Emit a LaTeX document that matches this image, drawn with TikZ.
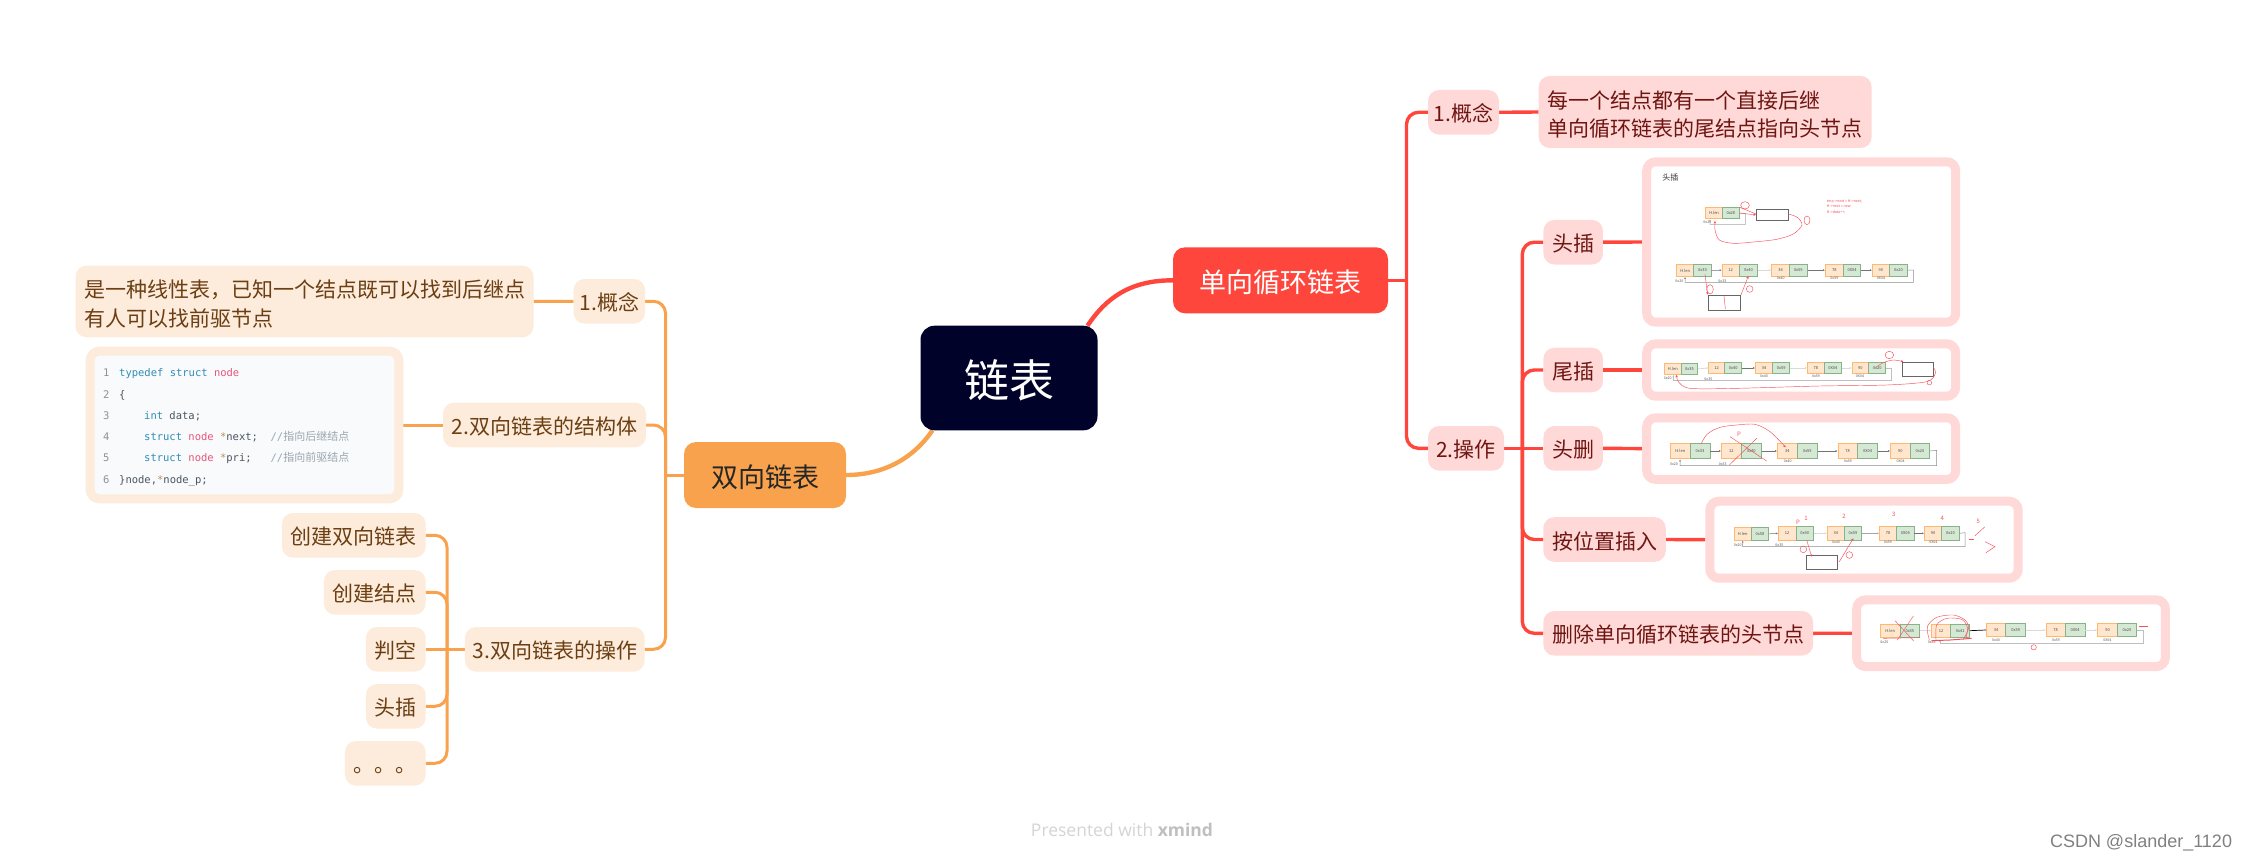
\documentclass[tikz,border=0pt]{standalone}
\usepackage{fontspec}
\setmainfont{Noto Sans CJK SC}
\newfontfamily\codef{DejaVu Sans Mono}
\newfontfamily\latf{Open Sans}
\newfontfamily\csdnf{Liberation Sans}
\usetikzlibrary{backgrounds,arrows.meta}
\definecolor{rootc}{HTML}{000229}
\definecolor{redc}{HTML}{FF463C}
\definecolor{redl}{HTML}{FFD9D7}
\definecolor{redt}{HTML}{6E1512}
\definecolor{orc}{HTML}{F9A24D}
\definecolor{orl}{HTML}{FDEBDC}
\definecolor{ort}{HTML}{6B3F12}
\definecolor{codebg}{HTML}{F8FAFC}
\definecolor{kwc}{HTML}{2F8DB5}
\definecolor{idc}{HTML}{E8557A}
\definecolor{stc}{HTML}{B8935F}
\definecolor{cmc}{HTML}{9AA5AE}
\definecolor{numc}{HTML}{8A949C}
\definecolor{txc}{HTML}{4A5560}
\definecolor{cella}{HTML}{FFE6CC}
\definecolor{cellb}{HTML}{D5E8D4}
\definecolor{hand}{HTML}{F5505A}
\newcounter{labid}
\tikzset{
  x=1pt,y=-1pt,
  box/.style={rounded corners=#1,inner sep=0pt,outer sep=0pt,align=center},
  box/.default=11pt,
  rootbox/.style={box=14pt,fill=rootc,text=white,font=\fontsize{45}{54}\selectfont,text height=43pt,text depth=5pt},
  redmain/.style={box=12pt,fill=redc,text=white,font=\fontsize{27}{32}\selectfont,text height=26.5pt,text depth=2.5pt},
  ormain/.style={box=12pt,fill=orc,text=black!85,font=\fontsize{27}{32}\selectfont,text height=26.5pt,text depth=2.5pt},
  redleaf/.style={box,fill=redl,text=redt,font=\fontsize{21}{28.5}\selectfont,text height=20.5pt,text depth=1.5pt},
  orleaf/.style={box,fill=orl,text=ort,font=\fontsize{21}{28.5}\selectfont,text height=20.5pt,text depth=1.5pt},
  redpara/.style={box,fill=redl,text=redt,font=\fontsize{21}{28.5}\selectfont,align=left},
  orpara/.style={box,fill=orl,text=ort,font=\fontsize{21}{28.5}\selectfont,align=left},
  redframe/.style={draw=redl,line width=9pt,rounded corners=9pt,fill=white,inner sep=0pt},
  orframe/.style={draw=orl,line width=9pt,rounded corners=9pt,fill=codebg,inner sep=0pt},
  redline/.style={draw=redc,line width=3.4pt,rounded corners=12pt},
  orline/.style={draw=orc,line width=3pt,rounded corners=12pt},
  rootred/.style={draw=redc,line width=4.4pt},
  rootor/.style={draw=orc,line width=4.4pt},
  codeln/.style={anchor=base west,inner sep=0pt,font=\codef\fontsize{10.5}{12}\selectfont,text=txc},
  cellA/.style={fill=cella,draw=orange!45!cella,line width=.7pt,inner sep=0pt,font=\fontsize{4}{5}\selectfont,text=black!70},
  cellB/.style={fill=cellb,draw=green!30!black!35!cellb,line width=.7pt,inner sep=0pt,font=\fontsize{4}{5}\selectfont,text=black!70},
  tinyl/.style={inner sep=0pt,font=\fontsize{3.6}{4}\selectfont,text=black!65},
  lnk/.style={draw=black!55,line width=.5pt,-{Latex[length=2pt,width=2pt]}},
  lnkl/.style={draw=black!15,line width=.7pt,-{Latex[length=2pt,width=2pt]}},
  retl/.style={draw=black!45,line width=.5pt,-{Latex[length=2pt,width=2pt]}},
  newbox/.style={draw=black!60,line width=.8pt,fill=white,inner sep=0pt},
  handl/.style={draw=hand,line width=.45pt,line cap=round},
  handa/.style={handl,-{Stealth[length=2.5pt,width=2.5pt]}},
  handt/.style={inner sep=0pt,text=hand,font=\fontsize{6}{7}\selectfont},
  shot/.style={x=.33333pt,y=-.33333pt},
}
\newcommand{\cellpair}[8]{% name x1 x2 x3 y1 y2 t1 t2
  \pgfmathsetmacro\wa{(#3-#2)/3}\pgfmathsetmacro\wb{(#4-#3)/3}\pgfmathsetmacro\hh{(#6-#5)/3}
  \node[cellA,minimum width=\wa pt,minimum height=\hh pt] (#1a) at ({(#2+#3)/2},{(#5+#6)/2}) {#7};
  \node[cellB,minimum width=\wb pt,minimum height=\hh pt] (#1b) at ({(#3+#4)/2},{(#5+#6)/2}) {#8};
}
\newcommand{\lab}[3]{\stepcounter{labid}\node[tinyl] (lab\arabic{labid}) at (#1,#2) {#3};}
\newcommand{\hnum}[3]{\stepcounter{labid}\node[handt] (lab\arabic{labid}) at (#1,#2) {#3};}
\newcommand{\newcell}[5]{% name x1 x2 y1 y2
  \pgfmathsetmacro\wa{(#3-#2)/3}\pgfmathsetmacro\hh{(#5-#4)/3}
  \node[newbox,minimum width=\wa pt,minimum height=\hh pt] (#1) at ({(#2+#3)/2},{(#4+#5)/2}) {};
}
\newcommand{\cjkc}[1]{{\rmfamily\fontsize{11}{12}\selectfont #1}}
\newcommand{\para}[2]{\raisebox{-2.5pt}[\height][\depth]{\parbox[c]{#1}{\fontsize{21}{28.5}\selectfont #2}}}
\begin{document}
\begin{tikzpicture}
\useasboundingbox (0,0) rectangle (2245,861);

% main nodes
\node[rootbox,minimum width=177pt,minimum height=104.6pt] (root) at (1009,378) {链表};
\node[redmain,minimum width=215pt,minimum height=66pt] (rm) at (1280.5,280.3) {单向循环链表};
\node[ormain,minimum width=162pt,minimum height=66pt] (om) at (765,475) {双向链表};

% right branch
\node[redleaf,minimum width=71pt,minimum height=44.6pt] (c1) at (1463.5,112.3) {1.概念};
\node[redpara,minimum width=333pt,minimum height=72pt] (c1t) at (1705.2,112) {\para{316pt}{每一个结点都有一个直接后继\\单向循环链表的尾结点指向头节点}};
\node[redleaf,minimum width=76pt,minimum height=44.6pt] (c2) at (1466,448.3) {2.操作};
\node[redleaf,minimum width=59.5pt,minimum height=44.6pt] (d1) at (1573.2,242.2) {头插};
\node[redleaf,minimum width=59.5pt,minimum height=44.6pt] (d2) at (1573.2,370) {尾插};
\node[redleaf,minimum width=59.5pt,minimum height=44.6pt] (d3) at (1573.2,448.3) {头删};
\node[redleaf,minimum width=122.5pt,minimum height=44.6pt] (d4) at (1604.5,539.5) {按位置插入};
\node[redleaf,minimum width=269.7pt,minimum height=44.6pt] (d5) at (1678.2,633.3) {删除单向循环链表的头节点};

% image frames
\node[redframe,minimum width=309pt,minimum height=160.4pt] (f1) at (1801.2,242) {};
\node[redframe,minimum width=309pt,minimum height=52.4pt] (f2) at (1801.2,370) {};
\node[redframe,minimum width=309pt,minimum height=61.7pt] (f3) at (1801.2,448.6) {};
\node[redframe,minimum width=308.4pt,minimum height=77pt] (f4) at (1864,539.7) {};
\node[redframe,minimum width=308.7pt,minimum height=66.7pt] (f5) at (2011,633.2) {};

% left branch
\node[orpara,minimum width=458pt,minimum height=71.6pt] (k1t) at (304.5,301.5) {\para{441pt}{是一种线性表\char"FF0C 已知一个结点既可以找到后继点\\有人可以找前驱节点}};
\node[orleaf,minimum width=71.5pt,minimum height=44.6pt] (k1) at (609.3,301.3) {1.概念};
\node[orleaf,minimum width=203pt,minimum height=44.6pt] (k2) at (544.5,425) {2.双向链表的结构体};
\node[orleaf,minimum width=179.7pt,minimum height=44.6pt] (k3) at (554.8,649.3) {3.双向链表的操作};
\node[orframe,minimum width=308.6pt,minimum height=147.6pt] (cf) at (244.5,425) {};
\node[orleaf,minimum width=143.7pt,minimum height=44.6pt] (l1) at (353.8,535.3) {创建双向链表};
\node[orleaf,minimum width=101.7pt,minimum height=44.6pt] (l2) at (374.8,592.3) {创建结点};
\node[orleaf,minimum width=59.7pt,minimum height=44.6pt] (l3) at (395.8,649.3) {判空};
\node[orleaf,minimum width=59.7pt,minimum height=44.6pt] (l4) at (395.8,706.3) {头插};
\node[orleaf,minimum width=80.7pt,minimum height=44.6pt] (l5) at (385.3,763.3) {。。。};

\coordinate (t1) at (1406.5,280.3);
\coordinate (t2) at (1522.3,448.3);
\coordinate (t3) at (665.5,475);
\coordinate (t4) at (447,649.3);

% connectors
\begin{scope}[on background layer]
  \draw[rootred] ([xshift=-10pt]root.north east) .. controls (1106,298) and (1130,280.3) .. (rm.west);
  \draw[rootor] ([xshift=12pt]root.south west) .. controls (912,460) and (882,475) .. (om.east);
  \draw[redline] (rm.east) -- (t1);
  \draw[redline] (c1.west) -| (t1) |- (c2.west);
  \draw[redline] (c1.east) -- (c1t.west);
  \draw[redline] (c2.east) -- (t2) -- (d3.west);
  \draw[redline] (d1.west) -| (t2) |- (d5.west);
  \draw[redline] (d2.west) -| (t2);
  \draw[redline] (d4.west) -| (t2);
  \draw[redline] (d1.east) -- (f1.west);
  \draw[redline] (d2.east) -- (f2.west);
  \draw[redline] (d3.east) -- (f3.west);
  \draw[redline] (d4.east) -- (f4.west);
  \draw[redline] (d5.east) -- (f5.west);
  \draw[orline] (om.west) -- (t3);
  \draw[orline] (k1.east) -| (t3) |- (k3.east);
  \draw[orline] (k2.east) -| (t3);
  \draw[orline] (k1t.east) -- (k1.west);
  \draw[orline] (cf.east) -- (k2.west);
  \draw[orline] (l1.east) -| (t4) |- (l5.east);
  \draw[orline] (l2.east) -| (t4);
  \draw[orline] (l4.east) -| (t4);
  \draw[orline] (l3.east) -- (t4) -- (k3.west);
\end{scope}

% code block
\node[codeln,text=numc] (n1) at (103,376) {1};
\node[codeln,text=numc] (n2) at (103,398.5) {2};
\node[codeln,text=numc] (n3) at (103,419) {3};
\node[codeln,text=numc] (n4) at (103,440.5) {4};
\node[codeln,text=numc] (n5) at (103,461.5) {5};
\node[codeln,text=numc] (n6) at (103,483) {6};
\node[codeln] (l1c) at (119,376) {\textcolor{kwc}{typedef}\ \textcolor{kwc}{struct}\ \textcolor{idc}{node}};
\node[codeln] (l2c) at (119,398.5) {\{};
\node[codeln] (l3c) at (144,419) {\textcolor{kwc}{int}\ data;};
\node[codeln] (l4c) at (144,440.5) {\textcolor{kwc}{struct}\ \textcolor{idc}{node}\ \textcolor{stc}{*}next;\ \ \textcolor{cmc}{//\cjkc{指向后继结点}}};
\node[codeln] (l5c) at (144,461.5) {\textcolor{kwc}{struct}\ \textcolor{idc}{node}\ \textcolor{stc}{*}pri;\ \ \ \textcolor{cmc}{//\cjkc{指向前驱结点}}};
\node[codeln] (l6c) at (119,483) {\}node,\textcolor{stc}{*}node\_p;};

% shot 1: head insert
\begin{scope}[shift={(1620,140)},shot]
  \node[inner sep=0pt,font=\fontsize{8}{9}\selectfont,text=black!80] (s1t) at (151,112) {头插};
  \cellpair{sa}{257}{307}{358}{203}{236}{H.len}{0x28}
  \newcell{sanew}{409}{504}{208}{241}
  \lab{262}{248}{0x20}
  \draw[retl,draw=black!35] (sab.east) -- (377,220) -- (377,253) -- (270,253) -- (270,238);
  \draw[handa] (sab.east) -- (sanew.west);
  \draw[handl] (sab.north east) -- (408,222);
  \draw[handa] plot[smooth] coordinates {(505,222) (532,232) (546,255) (520,282) (470,298) (400,306) (340,310) (298,300) (285,270) (285,243)};
  \draw[handl] (561,241) ellipse [x radius=9,y radius=13];
  \draw[handl] (375,196) ellipse [x radius=13,y radius=11];
  \stepcounter{labid}\node[inner sep=0pt,text=hand,font=\fontsize{3.6}{4}\selectfont,align=left,anchor=north west] (s1r) at (620,178) {tmp->next = H->next;\\[1.5pt]H->next = new\\[1.5pt]H->data++;};
  \cellpair{sb}{170}{221}{274}{373}{410}{H.len}{0x33}
  \cellpair{sc}{306}{358}{413}{373}{408}{12}{0x40}
  \cellpair{sd}{455}{508}{562}{373}{408}{34}{0x59}
  \cellpair{se}{616}{670}{722}{373}{408}{78}{0X04}
  \cellpair{sf}{757}{808}{863}{373}{408}{90}{0x20}
  \draw[lnk] (sbb.east) -- (sca.west);
  \draw[lnkl] (scb.east) -- (sda.west);
  \draw[lnk] (sdb.east) -- (sea.west);
  \draw[lnk] (seb.east) -- (sfa.west);
  \draw[retl] (sfb.east) -- (880,390) -- (880,427) -- (195,427) -- (195,411);
  \lab{178}{423}{0x20}\lab{307}{423}{0x33}\lab{482}{415}{0x40}\lab{643}{415}{0x59}\lab{783}{415}{0X04}
  \newcell{sbnew}{264}{362}{465}{510}
  \draw[handa] (255,403) -- (sbnew.north west);
  \draw[handa] (sbnew.north east) -- (385,408);
  \draw[handl] (312,468) -- (316,506);
  \draw[handl] (270,448) ellipse [x radius=10,y radius=14];
  \draw[handl] (389,447) ellipse [x radius=10,y radius=10];
\end{scope}

% shot 2: tail insert
\begin{scope}[shift={(1620,330)},shot]
  \cellpair{ta}{133}{184}{233}{100}{133}{H.len}{0x35}
  \cellpair{tb}{265}{314}{365}{97}{131}{12}{0x40}
  \cellpair{tc}{406}{458}{509}{97}{131}{34}{0x59}
  \cellpair{td}{562}{613}{664}{97}{131}{78}{0X04}
  \cellpair{te}{696}{746}{797}{97}{131}{90}{0x20}
  \draw[lnkl] (tab.east) -- (tba.west);
  \draw[lnk] (tbb.east) -- (tca.west);
  \draw[lnkl] (tcb.east) -- (tda.west);
  \draw[lnkl] (tdb.east) -- (tea.west);
  \draw[retl,draw=black!25,line width=.7pt] (teb.east) -- (815,114) -- (815,151) -- (160,151) -- (160,135);
  \lab{143}{145}{0x20}\lab{265}{147}{0x35}\lab{432}{140}{0x40}\lab{588}{140}{0x59}\lab{720}{140}{0X04}
  \newcell{tnew}{847}{940}{97}{140}
  \draw[handa] plot[smooth] coordinates {(768,112) (790,98) (820,90) (850,95)};
  \draw[handl] (808,75) ellipse [x radius=13,y radius=11];
  \draw[handa] plot[smooth] coordinates {(940,112) (946,130) (920,155) (800,165) (600,168) (350,175) (210,175) (175,155) (170,135)};
  \draw[handl] (928,158) ellipse [x radius=7,y radius=7];
\end{scope}

% shot 3: head delete
\begin{scope}[shift={(1620,330)},shot]
  \cellpair{ua}{152}{210}{270}{341}{385}{H.len}{0x33}
  \cellpair{ub}{304}{364}{424}{341}{385}{12}{0x40}
  \cellpair{uc}{472}{532}{592}{341}{385}{34}{0x59}
  \cellpair{ud}{654}{712}{773}{341}{385}{78}{0X04}
  \cellpair{ue}{811}{871}{929}{341}{385}{90}{0x20}
  \draw[lnk] (uab.east) -- (uba.west);
  \draw[lnk] (ubb.east) -- (uca.west);
  \draw[lnk] (ucb.east) -- (uda.west);
  \draw[lnk] (udb.east) -- (uea.west);
  \draw[retl] (ueb.east) -- (950,361) -- (950,407) -- (180,407) -- (180,388);
  \lab{162}{402}{0x20}\lab{308}{403}{0x33}\lab{503}{393}{0x40}\lab{684}{393}{0x59}\lab{842}{393}{0X04}
  \draw[handa] plot[smooth] coordinates {(243,342) (262,312) (300,292) (350,285) (405,283) (450,305) (497,352)};
  \draw[handl] (330,320) -- (440,393);
  \draw[handl] (410,325) -- (328,405);
  \hnum{357}{314}{P}
\end{scope}

% shot 4: insert at position
\begin{scope}[shift={(1690,490)},shot]
  \cellpair{va}{132}{184}{236}{113}{150}{H.len}{0x58}
  \cellpair{vb}{265}{318}{370}{110}{150}{12}{0x40}
  \cellpair{vc}{412}{463}{515}{110}{150}{34}{0x59}
  \cellpair{vd}{568}{620}{672}{110}{150}{78}{0X04}
  \cellpair{ve}{703}{755}{808}{110}{150}{90}{0x20}
  \draw[lnk] (vab.east) -- (vba.west);
  \draw[lnkl] (vbb.east) -- (vca.west);
  \draw[lnkl,draw=black!35] (vcb.east) -- (vda.west);
  \draw[lnk] (vdb.east) -- (vea.west);
  \draw[retl] (veb.east) -- (825,128) -- (825,170) -- (158,170) -- (158,152);
  \lab{143}{165}{0x20}\lab{268}{165}{0x35}\lab{438}{157}{0x40}\lab{594}{157}{0x59}\lab{730}{157}{0X04}
  \newcell{vnew}{350}{442}{195}{237}
  \hnum{348}{86}{1}\hnum{324}{98}{P}\hnum{462}{80}{2}\hnum{611}{72}{3}\hnum{757}{85}{4}\hnum{865}{94}{5}
  \draw[handl] (855,137) -- (885,110);
  \draw[handl] (885,155) -- (915,170) -- (888,188);
  \draw[handl,line width=.8pt] (838,147) -- (850,147);
  \draw[handa] (350,150) -- (365,200);
  \draw[handl] (340,178) circle [radius=10];
  \draw[handa] (448,215) -- (490,145);
  \draw[handl] (478,195) circle [radius=10];
\end{scope}

% shot 5: delete head node
\begin{scope}[shift={(1840,590)},shot]
  \cellpair{wa}{121}{180}{239}{102}{142}{H.len}{0x35}
  \cellpair{wb}{275}{332}{389}{102}{142}{12}{0x41}
  \cellpair{wc}{439}{497}{557}{100}{140}{34}{0x59}
  \cellpair{wd}{618}{676}{735}{100}{140}{78}{0X04}
  \cellpair{we}{773}{832}{890}{100}{140}{90}{0x20}
  \draw[lnkl] (wab.east) -- (wba.west);
  \draw[draw=black,line width=.7pt] (wbb.east) -- (wca.west);
  \draw[lnkl] (wcb.east) -- (wda.west);
  \draw[lnkl] (wdb.east) -- (wea.west);
  \draw[retl,draw=black!25,line width=.7pt] (web.east) -- (910,120) -- (910,160) -- (300,160) -- (300,150);
  \lab{133}{157}{0x20}\lab{275}{158}{0x35}\lab{468}{150}{0x40}\lab{648}{150}{0x59}\lab{802}{150}{0X04}
  \draw[handl] (165,92) -- (220,152);
  \draw[handl] (220,78) -- (172,150);
  \draw[handl] (130,145) -- (240,143);
  \draw[handl] plot[smooth] coordinates {(268,150) (262,110) (290,82) (340,75) (375,90) (386,115) (370,148)};
  \draw[handl] plot[smooth] coordinates {(288,150) (290,105) (320,85) (365,88) (382,112) (378,145)};
  \draw[draw=hand,line width=1pt] (275,152) -- (330,150) -- (395,145);
  \draw[draw=hand,line width=.8pt] (898,108) -- (924,108);
  \draw[handl] (581,172) circle [radius=8];
\end{scope}

% footer
\node[inner sep=0pt,font=\latf\fontsize{17.5}{20}\selectfont,text=black!17] (foot) at (1122,830) {Presented with \textbf{\textcolor{black!25}{xmind}}};
\node[inner sep=0pt,font=\csdnf\fontsize{18}{21}\selectfont,text=black!50] (csdn) at (2141,843) {CSDN @slander\_1120};
\end{tikzpicture}
\end{document}
